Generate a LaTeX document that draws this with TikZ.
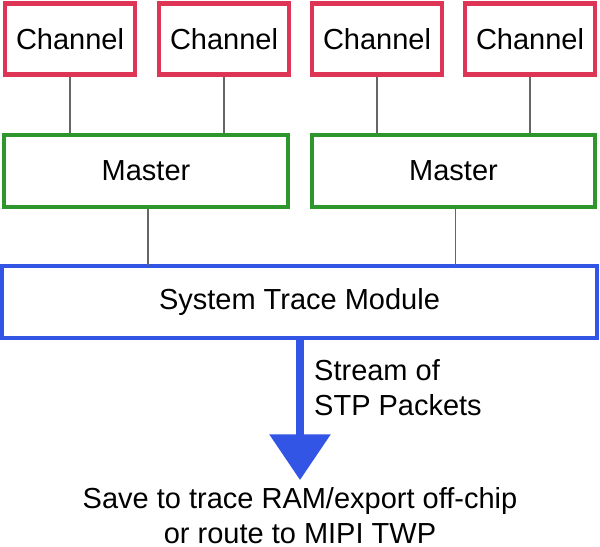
\documentclass[tikz,border=0pt]{standalone}
\usepackage{fontspec}
\setmainfont{Liberation Sans}
\usetikzlibrary{arrows.meta}
\definecolor{chanred}{RGB}{222,52,85}
\definecolor{mastgreen}{RGB}{45,150,45}
\definecolor{stmblue}{RGB}{50,85,230}
\tikzset{
  box/.style={draw, line width=2.5pt, inner sep=0pt, font=\fontsize{16.5}{19}\selectfont},
  link/.style={draw=gray!80!black, line width=0.6pt}
}
\begin{document}
\begin{tikzpicture}[x=0.02cm, y=-0.02cm]
\useasboundingbox (0,0) rectangle (600,547);
\fill[white] (0,0) rectangle (600,547);
\begin{scope}[every node/.style={box, draw=chanred, minimum width=2.6cm, minimum height=1.42cm}]
    \node (chan1) at (70, 39) {Channel};
    \node (chan2) at (224, 39) {Channel};
    \node (chan3) at (377, 39) {Channel};
    \node (chan4) at (530, 39) {Channel};
\end{scope}
\begin{scope}[every node/.style={box, draw=mastgreen, minimum width=5.67cm, minimum height=1.45cm}]
    \node (mast1) at (146, 171) {Master};
    \node (mast2) at (453.5, 171) {Master};
\end{scope}
\node (stm) [box, draw=stmblue, minimum width=11.9cm, minimum height=1.45cm] at (299.5, 302) {System Trace Module};
\node (dest) [font=\fontsize{16.5}{20}\selectfont, align=center] at (300, 516)
  {Save to trace RAM/export off-chip\\or route to MIPI TWP};
\node (stream) [font=\fontsize{16.5}{20}\selectfont, align=left, anchor=west] at (308, 388)
  {Stream of\\STP Packets};
\coordinate (tip) at (300, 480);

\path [link] (chan1) -- (chan1 |- mast1.north);
\path [link] (chan2) -- (chan2 |- mast1.north);
\path [link] (chan3) -- (chan3 |- mast2.north);
\path [link] (chan4) -- (chan4 |- mast2.north);
\path [link] (mast1.south) ++(2,0) -- +(0,56);
\path [link] (mast2.south) ++(2,0) -- +(0,56);
\draw [stmblue, line width=4pt, -{Triangle[width=34pt,length=26pt]}] (stm.south -| tip) -- (tip);
\end{tikzpicture}
\end{document}
